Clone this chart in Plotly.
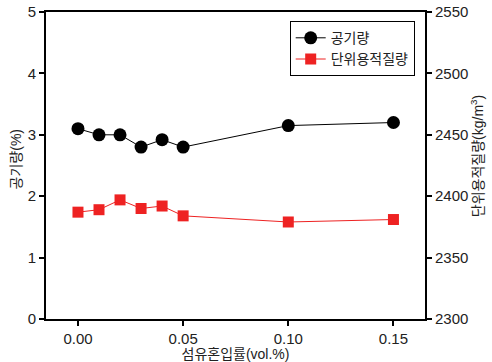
import plotly.graph_objects as go

# Fibre content (vol.%) and measured properties
fiber_content = [0.00, 0.01, 0.02, 0.03, 0.04, 0.05, 0.10, 0.15]
air_content = [3.10, 3.00, 3.00, 2.80, 2.92, 2.80, 3.15, 3.20]          # %
unit_weight = [2387, 2389, 2397, 2390, 2392, 2384, 2379, 2381]          # kg/m3

x_ticks = [0.00, 0.05, 0.10, 0.15]
x_tick_text = ["0.00", "0.05", "0.10", "0.15"]

FONT = "Liberation Sans, Arial, Noto Sans CJK KR, sans-serif"
TXT = "#222222"

fig = go.Figure()

fig.add_trace(go.Scatter(
    x=fiber_content, y=air_content, name="공기량",
    mode="lines+markers",
    line=dict(color="black", width=1),
    marker=dict(symbol="circle", size=13, color="black"),
))

fig.add_trace(go.Scatter(
    x=fiber_content, y=unit_weight, name="단위용적질량",
    mode="lines+markers", yaxis="y2",
    line=dict(color="#ee2222", width=1),
    marker=dict(symbol="square", size=11, color="#ee2222"),
))

axis_common = dict(
    showline=True, linecolor="black", linewidth=2,
    ticks="outside", ticklen=5, tickwidth=1.5, tickcolor="black",
    showgrid=False, zeroline=False, automargin=False,
    tickfont=dict(family=FONT, size=15, color=TXT),
)

fig.update_layout(
    width=492, height=362,
    margin=dict(l=46, r=67, t=12, b=43),
    plot_bgcolor="white", paper_bgcolor="white",
    font=dict(family=FONT, size=14, color=TXT),
    showlegend=True,
    legend=dict(
        x=0.643, y=0.97, xanchor="left", yanchor="top",
        bordercolor="black", borderwidth=1, bgcolor="white",
        font=dict(family=FONT, size=14, color=TXT),
        tracegroupgap=0, itemwidth=30,
    ),
    xaxis=dict(
        **axis_common,
        range=[-0.0152, 0.165],
        tickvals=x_ticks, ticktext=x_tick_text,
        mirror=True,
        title=dict(text="섬유혼입률(vol.%)", standoff=2,
                   font=dict(family=FONT, size=14, color=TXT)),
    ),
    yaxis=dict(
        **axis_common,
        range=[0, 5], dtick=1,
    ),
    yaxis2=dict(
        **axis_common,
        range=[2300, 2550], dtick=50,
        overlaying="y", side="right",
    ),
    annotations=[
        # vertical axis titles, placed beside the tick labels
        dict(text="공기량(%)", xref="paper", yref="paper",
             x=-0.079, y=0.52, xanchor="center", yanchor="middle",
             textangle=-90, showarrow=False,
             font=dict(family=FONT, size=14, color=TXT)),
        dict(text="단위용적질량(kg/m<sup>3</sup>)", xref="paper", yref="paper",
             x=1.137, y=0.53, xanchor="center", yanchor="middle",
             textangle=-90, showarrow=False,
             font=dict(family=FONT, size=14, color=TXT)),
    ],
)

fig.write_html("out.html")
